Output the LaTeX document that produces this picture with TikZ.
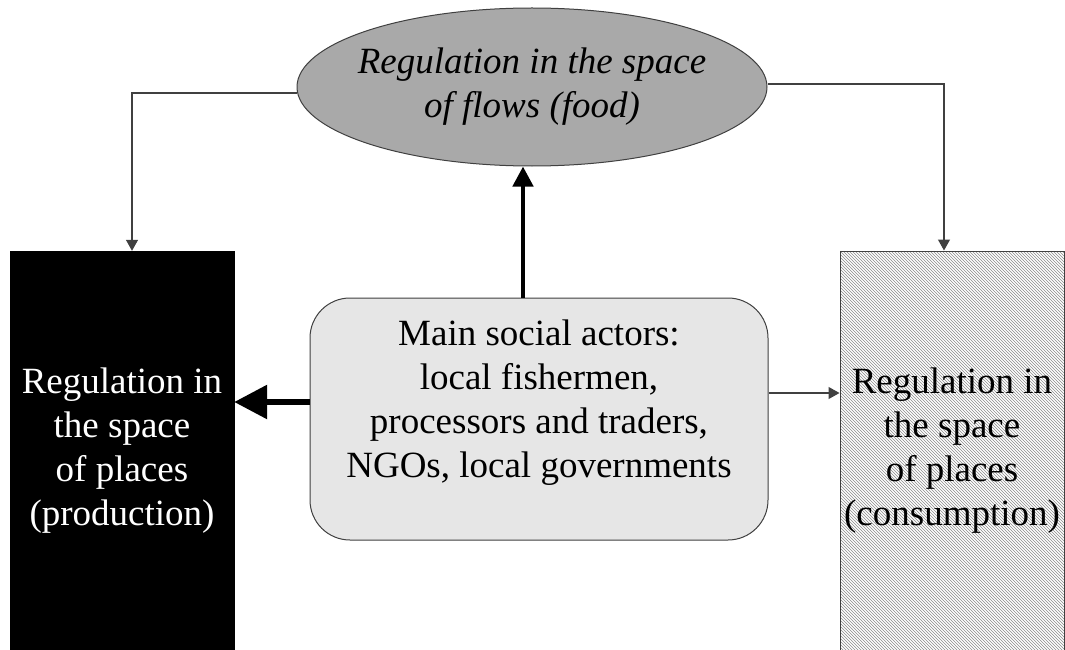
\documentclass[tikz,border=0pt]{standalone}
\usepackage{fontspec}
\setmainfont{Liberation Serif}
\usetikzlibrary{shapes.geometric,arrows.meta,patterns}
\definecolor{boxgray}{HTML}{E6E6E6}
\definecolor{ellgray}{HTML}{A9A9A9}
\definecolor{edge}{HTML}{404040}
\begin{document}
\begin{tikzpicture}[x=1pt,y=-1pt,
  bigtext/.style={font=\fontsize{37}{44}\selectfont, align=center, inner sep=0pt},
  flowell/.style={ellipse, draw=edge, line width=1pt, fill=ellgray,
    minimum width=470pt, minimum height=158pt, inner sep=0pt},
  prodbox/.style={rectangle, fill=black, draw=black, text=white,
    minimum width=224pt, minimum height=399pt, bigtext},
  consbox/.style={rectangle, draw=edge, line width=1pt,
    preaction={fill=white},
    pattern=north west lines, pattern color=gray!90,
    minimum width=224pt, minimum height=399pt, bigtext},
  actorbox/.style={rectangle, rounded corners=40pt, draw=edge, line width=1pt,
    fill=boxgray, minimum width=458pt, minimum height=242pt, inner sep=0pt},
  thinarrow/.style={draw=edge, line width=1.2pt, -{Triangle[width=12pt,length=11pt]}},
  thickarrow/.style={draw=black, line width=4.5pt, -{Triangle[width=20pt,length=20pt]}},
  widearrow/.style={draw=black, line width=6pt, -{Triangle[width=33pt,length=33pt]}}
]
\useasboundingbox (0,0) rectangle (1065,650);

% the flow regulation ellipse and its caption
\node[flowell] (flows) at (532,87) {};
\node[bigtext, font=\fontsize{37}{44}\selectfont\itshape] (flowstext) at (flows.center)
  {Regulation in the space\\of flows (food)};

% the two spaces of places
\node[prodbox] (prod) at (122,450.5)
  {Regulation in\\the space\\of places\\(production)};
\node[consbox] (cons) at (952,450.5)
  {Regulation in\\the space\\of places\\(consumption)};

% the social actors
\node[actorbox] (actors) at (539,419) {};
\node[bigtext] (actorstext) at (539,403)
  {Main social actors:\\local fishermen,\\processors and traders,\\NGOs, local governments};

% connectors
\draw[thinarrow] ([yshift=-6pt]flows.west) -| ([xshift=10pt]prod.north);
\draw[thinarrow] ([yshift=3pt]flows.east) -| ([xshift=-8pt]cons.north);
\draw[thickarrow] ([xshift=-16pt]actors.north) -- ([xshift=-16pt]actors.north |- flows.south);
\draw[widearrow] ([yshift=17pt]actors.west) -- ([yshift=17pt]actors.west -| prod.east);
\draw[thinarrow] ([yshift=26pt]actors.east) -- ([yshift=26pt]actors.east -| cons.west);
\end{tikzpicture}
\end{document}
